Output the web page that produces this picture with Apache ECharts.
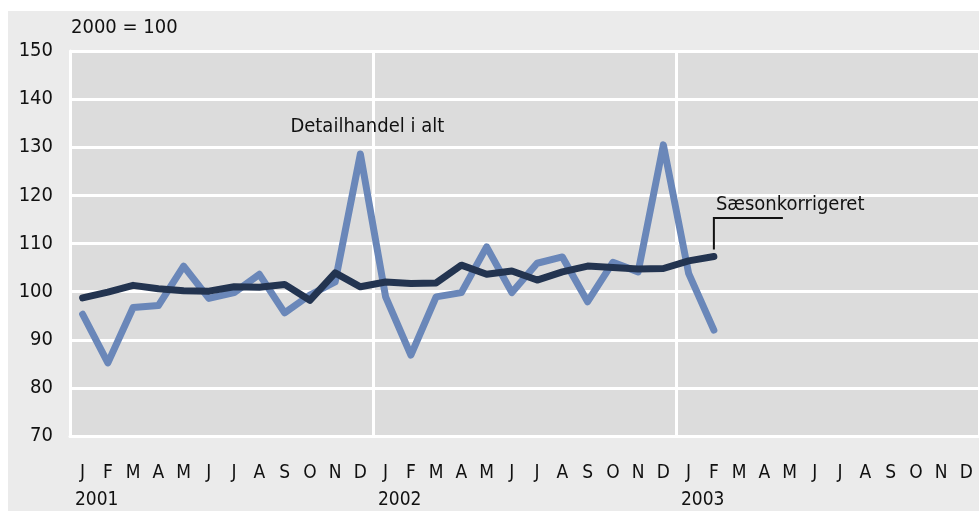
<!DOCTYPE html>
<html>
<head>
<meta charset="utf-8">
<script src="https://cdn.jsdelivr.net/npm/echarts@6/dist/echarts.min.js"></script>
<style>
html,body{margin:0;padding:0;background:#ffffff;}
#chart{width:979px;height:511px;}
</style>
</head>
<body>
<div id="chart"></div>
<script>
var months = ['J','F','M','A','M','J','J','A','S','O','N','D'];
var years = ['2001','2002','2003'];
var yTicks = [70, 80, 90, 100, 110, 120, 130, 140, 150];
var detailhandel = [95.3, 85.2, 96.7, 97.1, 105.3, 98.6, 99.8, 103.6, 95.6, 99.3, 102.0, 128.6,
                    98.9, 86.8, 98.9, 99.8, 109.3, 99.8, 105.9, 107.2, 97.9, 106.1, 104.1, 130.5,
                    103.8, 92.0];
var saesonkorrigeret = [98.7, 99.9, 101.3, 100.6, 100.2, 100.1, 101.0, 100.9, 101.5, 98.2, 103.9, 101.0,
                        102.0, 101.7, 101.8, 105.5, 103.6, 104.3, 102.4, 104.1, 105.3, 105.0, 104.7, 104.8,
                        106.4, 107.3];
var unitLabel = '2000 = 100';
var label1 = 'Detailhandel i alt';
var label2 = 'Sæsonkorrigeret';

var categories = [];
years.forEach(function(y){ months.forEach(function(m){ categories.push(m + '|' + y); }); });

var FONT = '"Liberation Sans Narrow", "DejaVu Sans Condensed", "Noto Sans", sans-serif';
var chart = echarts.init(document.getElementById('chart'));
var option = {
  animation: false,
  backgroundColor: '#ffffff',
  textStyle: { fontFamily: FONT },
  grid: { left: 70, top: 51, height: 385, width: 916, show: true, backgroundColor: '#dcdcdc', borderWidth: 0 },
  xAxis: {
    type: 'category',
    data: categories,
    boundaryGap: true,
    axisLine: { show: true, lineStyle: { color: '#ffffff', width: 3 } },
    axisTick: { show: false },
    splitLine: { show: true, interval: function(i){ return i % 12 === 0; }, lineStyle: { color: '#ffffff', width: 3 } },
    axisLabel: {
      interval: 0,
      margin: 24,
      formatter: function(v, i){
        var p = v.split('|');
        if (i % 12 === 0) return '{m|' + p[0] + '}\n{y|' + p[1] + '}';
        return '{m|' + p[0] + '}';
      },
      rich: {
        m: { fontFamily: FONT, fontSize: 19, color: '#111', lineHeight: 27 },
        y: { fontFamily: FONT, fontSize: 19, color: '#111', lineHeight: 27, padding: [0, 0, 0, 28] }
      }
    }
  },
  yAxis: {
    type: 'value',
    min: yTicks[0], max: yTicks[yTicks.length - 1], interval: 10,
    axisLine: { show: true, lineStyle: { color: '#ffffff', width: 3 } },
    axisTick: { show: false },
    splitLine: { show: true, lineStyle: { color: '#ffffff', width: 3 } },
    axisLabel: { margin: 17, fontFamily: FONT, fontSize: 20, color: '#111' }
  },
  series: [
    {
      name: label1, type: 'line', data: detailhandel, symbol: 'none',
      lineStyle: { color: '#6a87b9', width: 7, cap: 'round', join: 'round' }, z: 3
    },
    {
      name: label2, type: 'line', data: saesonkorrigeret, symbol: 'none',
      lineStyle: { color: '#233450', width: 7, cap: 'round', join: 'round' }, z: 4
    }
  ]
};
chart.setOption(option);

// annotations anchored on data coordinates
var pF = chart.convertToPixel({ gridIndex: 0 }, [25, saesonkorrigeret[25]]);
var pTop = chart.convertToPixel({ gridIndex: 0 }, [25, 115.3]);
var pD = chart.convertToPixel({ gridIndex: 0 }, [11, 134.2]);
var lx = pF[0];
chart.setOption({
  graphic: [
    { type: 'rect', z: -10, silent: true, shape: { x: 8, y: 11, width: 980, height: 510 }, style: { fill: '#ebebeb' } },
    { type: 'polyline', z: 10, shape: { points: [[lx, pF[1] - 7], [lx, pTop[1]], [lx + 69, pTop[1]]] },
      style: { stroke: '#111', lineWidth: 2, fill: null } },
    { type: 'text', z: 10, x: lx + 2, y: pTop[1] - 13,
      style: { text: label2, font: '20px ' + FONT, fill: '#111', textAlign: 'left', textVerticalAlign: 'middle' } },
    { type: 'text', z: 10, x: pD[0] - 70, y: pD[1],
      style: { text: label1, font: '20px ' + FONT, fill: '#111', textAlign: 'left', textVerticalAlign: 'middle' } },
    { type: 'text', z: 10, x: 71, y: 28,
      style: { text: unitLabel, font: '20px ' + FONT, fill: '#111', textAlign: 'left', textVerticalAlign: 'middle' } }
  ]
});
</script>
</body>
</html>
